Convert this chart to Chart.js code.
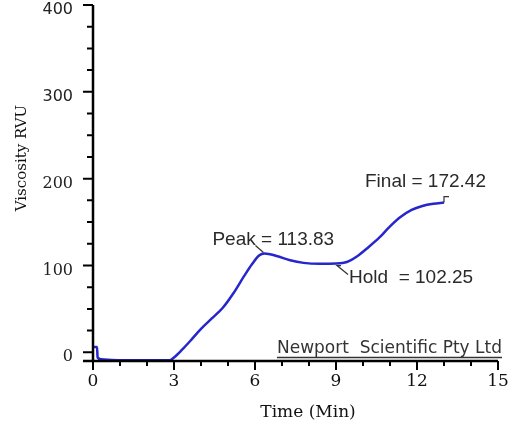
<!DOCTYPE html>
<html>
<head>
<meta charset="utf-8">
<script src="https://cdn.jsdelivr.net/npm/chart.js@4.4.1/dist/chart.umd.min.js"></script>
<style>
  html, body { margin: 0; padding: 0; background: #fff; }
  #wrap { width: 513px; height: 425px; }
</style>
</head>
<body>
<div id="wrap"><canvas id="rvaChart"></canvas></div>
<script>
// RVA pasting curve
const timeMin = [0, 0.15, 0.17, 0.3, 1.0, 2.0, 2.85, 3.0, 3.3, 3.6, 4.0, 4.4, 4.8, 5.2, 5.6, 5.9, 6.15, 6.35, 6.8, 7.3, 7.8, 8.4, 9.0, 9.4, 9.8, 10.2, 10.6, 11.0, 11.4, 11.8, 12.2, 12.6, 13.0];
const viscosity = [6, 6, -6, -8, -9, -9, -9, -6, 3, 13, 27, 39, 51, 68, 88, 102, 111.5, 113.83, 111, 106, 103, 102, 102.25, 104, 111, 121, 132, 145, 156, 164, 168.5, 171, 172.42];

const xTickLabels = [0, 3, 6, 9, 12, 15];
const yTickLabels = [0, 100, 200, 300, 400];

const annotLabels = ["Peak = 113.83", "Hold  = 102.25", "Final = 172.42"];
const annotTimes = [6.35, 9.0, 13.0];
const annotValues = [113.83, 102.25, 172.42];

const serif = "'DejaVu Serif', serif";
const sans = "'Liberation Sans', Arial, sans-serif";

// axis lines, minor/major ticks, titles and the peak/hold/final notes
const rvaDecor = {
  id: "rvaDecor",
  afterDraw(chart) {
    const ctx = chart.ctx;
    const xs = chart.scales.x;
    const ys = chart.scales.y;
    const x0 = xs.getPixelForValue(0);
    const yb = chart.chartArea.bottom;
    const yt = chart.chartArea.top;

    ctx.save();
    ctx.strokeStyle = "#000";
    ctx.lineWidth = 2.5;
    ctx.beginPath();
    ctx.moveTo(x0, yt);
    ctx.lineTo(x0, yb);
    ctx.moveTo(x0 - 10, yb);
    ctx.lineTo(xs.getPixelForValue(15), yb);
    ctx.stroke();

    ctx.lineWidth = 2;
    ctx.beginPath();
    for (let v = 0; v <= 400; v += 25) {
      const y = ys.getPixelForValue(v);
      const len = v % 100 === 0 ? 10 : 6;
      ctx.moveTo(x0 - len, y);
      ctx.lineTo(x0, y);
    }
    for (let t = 0; t <= 15; t++) {
      const x = xs.getPixelForValue(t);
      const len = t % 3 === 0 ? 9 : 5;
      ctx.moveTo(x, yb);
      ctx.lineTo(x, yb + len);
    }
    ctx.stroke();

    // axis titles
    ctx.fillStyle = "#111";
    ctx.font = "15px " + serif;
    ctx.textAlign = "center";
    ctx.textBaseline = "middle";
    ctx.save();
    ctx.translate(22, 158);
    ctx.rotate(-Math.PI / 2);
    ctx.fillText("Viscosity RVU", 0, 0);
    ctx.restore();
    ctx.font = "17px " + serif;
    ctx.fillText("Time (Min)", 308, 413);

    // maker's mark
    ctx.font = "17px 'DejaVu Sans', sans-serif";
    ctx.textAlign = "left";
    ctx.textBaseline = "alphabetic";
    const mark = "Newport  Scientific Pty Ltd";
    ctx.fillStyle = "#333";
    ctx.fillText(mark, 277, 353);
    const w = ctx.measureText(mark).width;
    ctx.strokeStyle = "#333";
    ctx.lineWidth = 1.5;
    ctx.beginPath();
    ctx.moveTo(277, 357.5);
    ctx.lineTo(277 + w, 357.5);
    ctx.stroke();

    // notes
    ctx.font = "19px " + sans;
    ctx.textBaseline = "middle";
    ctx.fillStyle = "#2a2a2a";
    ctx.strokeStyle = "#333";
    ctx.lineWidth = 1.2;
    const pts = annotTimes.map((t, i) => [xs.getPixelForValue(t), ys.getPixelForValue(annotValues[i])]);

    let [px, py] = pts[0];
    ctx.beginPath();
    ctx.moveTo(px - 9, py - 8);
    ctx.lineTo(px - 1, py - 1);
    ctx.stroke();
    ctx.fillText(annotLabels[0], px - 52, py - 14);

    [px, py] = pts[1];
    ctx.beginPath();
    ctx.moveTo(px + 12, py + 11);
    ctx.lineTo(px + 1, py + 2);
    ctx.lineTo(px + 5, py + 2);
    ctx.stroke();
    ctx.fillText(annotLabels[1], px + 13, py + 14);

    [px, py] = pts[2];
    ctx.beginPath();
    ctx.moveTo(px, py);
    ctx.lineTo(px, py - 6);
    ctx.lineTo(px + 5, py - 6);
    ctx.stroke();
    ctx.fillText(annotLabels[2], px - 79, py - 21);

    ctx.restore();
  },
};

new Chart(document.getElementById("rvaChart"), {
  type: "line",
  data: {
    datasets: [
      {
        data: timeMin.map((t, i) => ({ x: t, y: viscosity[i] })),
        borderColor: "#2626cc",
        borderWidth: 2.5,
        pointRadius: 0,
        fill: false,
        cubicInterpolationMode: "monotone",
      },
    ],
  },
  options: {
    responsive: true,
    maintainAspectRatio: false,
    animation: false,
    layout: { padding: { top: 5, right: 15, left: 0, bottom: 0 } },
    plugins: { legend: { display: false }, tooltip: { enabled: false } },
    scales: {
      x: {
        type: "linear",
        min: 0,
        max: 15,
        afterBuildTicks: (scale) => {
          scale.ticks = xTickLabels.map((v) => ({ value: v }));
        },
        afterFit: (scale) => {
          scale.height = 64;
          scale.paddingLeft = 0;
          scale.paddingRight = 0;
        },
        grid: { display: false, drawTicks: false },
        border: { display: false },
        ticks: {
          autoSkip: false,
          maxRotation: 0,
          padding: 10,
          color: "#111",
          font: { family: serif, size: 17 },
        },
      },
      y: {
        min: -10,
        max: 400,
        afterBuildTicks: (scale) => {
          scale.ticks = yTickLabels.map((v) => ({ value: v }));
        },
        afterFit: (scale) => {
          scale.width = 93;
          scale.paddingTop = 0;
          scale.paddingBottom = 0;
        },
        grid: { display: false, drawTicks: false },
        border: { display: false },
        ticks: {
          padding: 20,
          labelOffset: 5,
          color: "#222",
          font: (c) => ({
            family: c.tick && c.tick.value >= 300 ? "'DejaVu Sans', sans-serif" : serif,
            size: 16,
          }),
        },
      },
    },
  },
  plugins: [rvaDecor],
});
</script>
</body>
</html>
